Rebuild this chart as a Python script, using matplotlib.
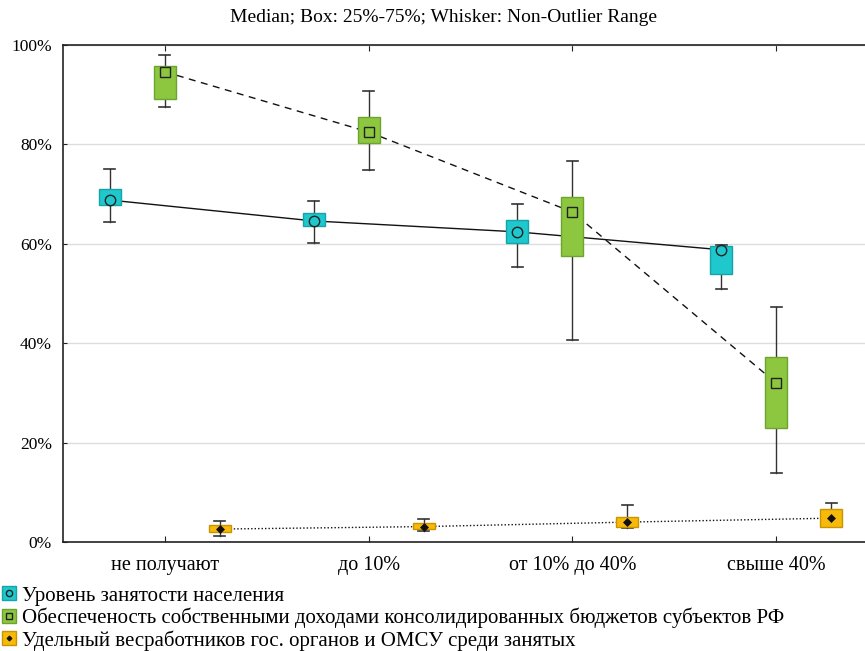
import matplotlib
matplotlib.use("Agg")
import matplotlib.pyplot as plt
from matplotlib.lines import Line2D
from matplotlib.legend_handler import HandlerTuple
import numpy as np

plt.rcParams['font.family'] = ['Liberation Serif', 'DejaVu Serif']

categories = ['не получают', 'до 10%', 'от 10% до 40%', 'свыше 40%']
y_ticks = [0, 20, 40, 60, 80, 100]
y_tick_labels = ['0%', '20%', '40%', '60%', '80%', '100%']

series_names = ['Уровень занятости населения',
                'Обеспеченость собственными доходами консолидированных бюджетов субъектов РФ',
                'Удельный весработников гос. органов и ОМСУ среди занятых']

# Employment level
emp_med = [68.8, 64.6, 62.4, 58.8]
emp_q1 = [67.8, 63.6, 60.2, 53.9]
emp_q3 = [71.0, 66.2, 64.8, 59.6]
emp_lo = [64.4, 60.2, 55.3, 50.9]
emp_hi = [75.0, 68.6, 68.0, 59.8]

# Own revenue sufficiency
rev_med = [94.6, 82.5, 66.4, 32.0]
rev_q1 = [89.1, 80.3, 57.5, 22.9]
rev_q3 = [95.8, 85.5, 69.4, 37.2]
rev_lo = [87.5, 74.8, 40.6, 13.9]
rev_hi = [98.0, 90.7, 76.7, 47.3]

# Share of government workers
gov_med = [2.6, 3.1, 4.0, 4.8]
gov_q1 = [2.0, 2.6, 3.1, 3.1]
gov_q3 = [3.4, 3.9, 5.1, 6.6]
gov_lo = [1.3, 2.3, 2.75, 3.1]
gov_hi = [4.2, 4.6, 7.4, 7.9]

series = [
    (emp_med, emp_q1, emp_q3, emp_lo, emp_hi),
    (rev_med, rev_q1, rev_q3, rev_lo, rev_hi),
    (gov_med, gov_q1, gov_q3, gov_lo, gov_hi),
]
face_colors = ['#1ec8cc', '#8dc63f', '#f7ba0a']
edge_colors = ['#17a3a8', '#6da431', '#c99400']
offsets = [-0.27, 0.0, 0.27]
line_styles = ['-', (0, (5, 4)), (0, (1, 1.5))]
med_markers = [dict(marker='o', ms=7.5, mfc='none', mec='#222222', mew=1.0),
               dict(marker='s', ms=7.5, mfc='none', mec='#222222', mew=1.0),
               dict(marker='D', ms=4.5, mfc='#111111', mec='#111111', mew=0.5)]

fig = plt.figure(figsize=(8.65, 6.51), dpi=100)
ax = fig.add_axes([63/865, (651-542)/651, (878-63)/865, (542-45)/651])

xbase = np.arange(len(categories))
for i, (med, q1, q3, lo, hi) in enumerate(series):
    xs = xbase + offsets[i]
    stats = [dict(med=m, q1=a, q3=b, whislo=l, whishi=h, fliers=[])
             for m, a, b, l, h in zip(med, q1, q3, lo, hi)]
    ax.bxp(stats, positions=xs, widths=0.108, patch_artist=True,
           showfliers=False, capwidths=0.055, manage_ticks=False,
           boxprops=dict(facecolor=face_colors[i], edgecolor=edge_colors[i], linewidth=1.0, zorder=3),
           whiskerprops=dict(color='#333333', linewidth=1.0, zorder=2.5),
           capprops=dict(color='#333333', linewidth=1.2, zorder=2.5),
           medianprops=dict(linewidth=0))
    ax.plot(xs, med, color='#111111', linestyle=line_styles[i], linewidth=1.0, zorder=2)
    ax.plot(xs, med, linestyle='none', zorder=4, **med_markers[i])

ax.set_xlim(-0.5, 3.5)
ax.set_ylim(0, 100)
ax.set_xticks(xbase)
ax.set_xticklabels(categories, fontsize=14.5)
ax.set_yticks(y_ticks)
ax.set_yticklabels(y_tick_labels, fontsize=12.5)
ax.tick_params(axis='x', direction='in', length=4, pad=10, top=True, color='#222222')
ax.tick_params(axis='y', direction='in', length=3, pad=8, color='#222222')
ax.yaxis.grid(True, color='#dddddd', linewidth=1.0, zorder=0)
ax.set_axisbelow(True)
for s in ['left', 'bottom', 'top']:
    ax.spines[s].set_color('#222222')
    ax.spines[s].set_linewidth(1.2)
ax.spines['right'].set_visible(False)

fig.text(443/865, 1 - 18/651, 'Median; Box: 25%-75%; Whisker: Non-Outlier Range',
         ha='center', va='center', fontsize=14)

handles = []
for i in range(3):
    sq = Line2D([], [], marker='s', ms=9.5, mfc=face_colors[i], mec=edge_colors[i], ls='none')
    mk = Line2D([], [], ls='none', **{k: (v * 0.6 if k == 'ms' else v) for k, v in med_markers[i].items()})
    handles.append((sq, mk))
fig.legend(handles, series_names, loc='upper left', bbox_to_anchor=(1/865, 1 - 586/651),
           frameon=False, fontsize=15, handlelength=0.75, handletextpad=0.25,
           labelspacing=0.1, borderaxespad=0, borderpad=0,
           handler_map={tuple: HandlerTuple(ndivide=1, pad=0)})

fig.savefig('out.png', dpi=100)
